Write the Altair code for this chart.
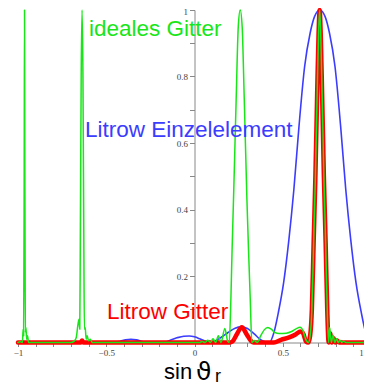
import json
import altair as alt
import pandas as pd

# ---- data ----
blue_x = [-1.0, -0.46, -0.42, -0.39, -0.36, -0.33, -0.30, -0.27, -0.17, -0.14, -0.10, -0.06,
          -0.03, 0.0, 0.03, 0.06, 0.09, 0.11, 0.15, 0.19, 0.23, 0.265, 0.30, 0.34, 0.37, 0.40,
          0.425, 0.45, 0.475, 0.505, 0.535, 0.563, 0.592, 0.624, 0.655, 0.68, 0.71, 0.74, 0.765,
          0.796, 0.828, 0.857, 0.885, 0.915, 0.945, 0.97, 0.996, 1.0]
blue_y = [0.0, 0.0, 0.004, 0.008, 0.0095, 0.008, 0.004, 0.0, 0.0, 0.006, 0.014, 0.019,
          0.0195, 0.017, 0.011, 0.004, 0.0, 0.003, 0.015, 0.03, 0.043, 0.047, 0.042, 0.025, 0.01, 0.002,
          0.0, 0.03, 0.09, 0.18, 0.31, 0.46, 0.65, 0.83, 0.93, 0.98, 1.0, 0.98, 0.93,
          0.83, 0.65, 0.46, 0.31, 0.18, 0.09, 0.03, 0.0, 0.0]

red_x = [-1.0, -0.645, -0.637, -0.629, 0.20, 0.215, 0.24, 0.268, 0.295, 0.32, 0.335, 0.45, 0.49,
         0.54, 0.575, 0.60, 0.615, 0.632, 0.645, 0.655, 0.665, 0.675, 0.685, 0.695, 0.703, 0.709,
         0.715, 0.723, 0.733, 0.743, 0.752, 0.76, 0.768, 0.778, 0.788, 0.798, 0.808, 0.82, 1.0]
red_y = [0.0, 0.0, 0.006, 0.0, 0.0, 0.003, 0.025, 0.046, 0.025, 0.005, 0.0, 0.0, 0.008,
         0.016, 0.025, 0.033, 0.028, 0.003, 0.0, 0.02, 0.1, 0.3, 0.5, 0.75, 0.93, 1.0,
         0.93, 0.75, 0.5, 0.3, 0.1, 0.0, 0.028, 0.0, 0.013, 0.0, 0.006, 0.0, 0.0]

green_x = [-1.0, -0.985, -0.975, -0.971, -0.968, -0.965, -0.963, -0.961, -0.958, -0.955, -0.951,
           -0.946, -0.94, -0.70, -0.68, -0.67, -0.66, -0.654, -0.65, -0.647, -0.642, -0.637,
           -0.632, -0.627, -0.624, -0.619, -0.614, -0.608, -0.60, -0.59, -0.58,
           0.03, 0.045, 0.06, 0.075, 0.09, 0.105, 0.12, 0.135, 0.15, 0.172, 0.188,
           0.197, 0.206, 0.213, 0.221, 0.236, 0.248, 0.259, 0.270, 0.282, 0.297, 0.306, 0.316, 0.325,
           0.34, 0.355, 0.375, 0.395, 0.415, 0.435, 0.455, 0.48, 0.52, 0.55, 0.575, 0.598, 0.615,
           0.63, 0.645, 0.655, 0.665, 0.675, 0.685, 0.695, 0.703, 0.709, 0.715, 0.723, 0.733,
           0.743, 0.752, 0.76, 0.766, 0.775, 0.785, 0.795, 0.805, 0.815, 0.825, 0.835, 0.845,
           0.86, 1.0]
green_y = [0.0, 0.002, 0.0, 0.04, 0.02, 0.5, 1.0, 0.5, 0.03, 0.045, 0.01,
           0.02, 0.0, 0.0, 0.005, 0.015, 0.055, 0.07, 0.04, 0.3, 0.8, 1.0,
           0.8, 0.3, 0.04, 0.045, 0.01, 0.02, 0.005, 0.01, 0.0,
           0.0, 0.003, 0.0, 0.007, 0.0, 0.011, 0.0, 0.02, 0.0, 0.042, 0.004,
           0.0, 0.128, 0.28, 0.43, 0.73, 0.95, 1.0, 0.95, 0.73, 0.43, 0.28, 0.128, 0.0,
           0.006, 0.0, 0.02, 0.038, 0.045, 0.04, 0.03, 0.027, 0.028, 0.033, 0.041, 0.046, 0.035,
           0.01, 0.0, 0.02, 0.1, 0.3, 0.5, 0.75, 0.93, 1.0, 0.93, 0.75, 0.5,
           0.3, 0.1, 0.0, 0.044, 0.0, 0.022, 0.0, 0.012, 0.0, 0.007, 0.0, 0.004,
           0.0, 0.0]

x_ticks = [-1.0, -0.9, -0.8, -0.7, -0.6, -0.5, -0.4, -0.3, -0.2, -0.1, 0.0,
           0.1, 0.2, 0.3, 0.4, 0.5, 0.6, 0.7, 0.8, 0.9, 1.0]
x_labels = [-1.0, -0.5, 0.0, 0.5, 1.0]
y_ticks = [0.1, 0.2, 0.3, 0.4, 0.5, 0.6, 0.7, 0.8, 0.9, 1.0]
y_labels = [0.2, 0.4, 0.6, 0.8, 1.0]

label_texts = ["ideales Gitter", "Litrow Einzelelement", "Litrow Gitter"]
title_parts = ["sin", "\u03d1", "r"]

GREEN = "#19e619"
BLUE = "#3c3cff"
RED = "#ff0000"

W_VIEW = 346      # svg must stay within the 356px wide page area
W_SCALE = 353     # x = -1 .. 1 spans this many pixels
H = 332.5


def frame(xs, ys):
    assert len(xs) == len(ys), (len(xs), len(ys))
    return pd.DataFrame({"x": xs, "y": ys})


def lab_expr(vals):
    return f"indexof({json.dumps(vals)}, datum.value) >= 0 ? format(datum.value, '~g') : ''"


x_enc = alt.X(
    "x:Q",
    scale=alt.Scale(domain=[-1, 1], range=[0, W_SCALE], nice=False, zero=False),
    axis=alt.Axis(
        values=x_ticks, labelExpr=lab_expr(x_labels), title="", grid=False,
        tickSize=4, tickColor="#888888", domainColor="#888888", tickWidth=1, domainWidth=1,
        labelFont="Liberation Serif", labelFontSize=9, labelColor="#444444",
        labelPadding=2, labelFlush=False, labelOverlap=False, labelBound=False,
        labelOffset={"condition": {"test": "datum.value == 1", "value": -10}, "value": 0},
    ),
)
y_enc = alt.Y(
    "y:Q",
    scale=alt.Scale(domain=[0, 1], nice=False),
    axis=alt.Axis(
        orient="left", offset=-W_SCALE / 2, values=y_ticks, labelExpr=lab_expr(y_labels),
        title="", grid=False, tickSize=5, tickColor="#888888", domainColor="#888888",
        tickWidth=1, domainWidth=1, labelFont="Liberation Serif", labelFontSize=9,
        labelColor="#444444", labelPadding=2, labelOverlap=False, labelBound=False,
        labelOffset={"condition": {"test": "datum.value == 1", "value": 1.5}, "value": 0},
    ),
)


def curve(df, color, width):
    return alt.Chart(df).mark_line(
        color=color, strokeWidth=width, interpolate="monotone",
        strokeJoin="round", strokeCap="round",
    ).encode(x=x_enc, y=y_enc)


def text(t, x, y, color, size, font="Liberation Sans"):
    return alt.Chart(pd.DataFrame({"t": [t]})).mark_text(
        align="left", baseline="alphabetic", font=font, fontSize=size, color=color,
    ).encode(x=alt.value(x), y=alt.value(y), text="t:N")


chart = alt.layer(
    curve(frame(blue_x, blue_y), BLUE, 1.6),
    curve(frame(red_x, red_y), RED, 4.5),
    curve(frame(green_x, green_y), GREEN, 1.5),
    text(label_texts[0], 71, 26, GREEN, 22.5),
    text(label_texts[1], 67, 127, BLUE, 22.5),
    text(label_texts[2], 89, 309, RED, 22.5),
    text(title_parts[0], 146, 369, "#000000", 22),
    text(title_parts[1], 178, 370, "#000000", 25, font="DejaVu Sans"),
    text(title_parts[2], 197, 372, "#000000", 18),
).properties(
    width=W_VIEW, height=H,
    autosize=alt.AutoSizeParams(type="none"),
    padding={"left": 10, "top": 2, "right": 0, "bottom": 42},
).configure_view(stroke=None)

chart.save("out.html", embed_options={"renderer": "svg", "actions": False})
